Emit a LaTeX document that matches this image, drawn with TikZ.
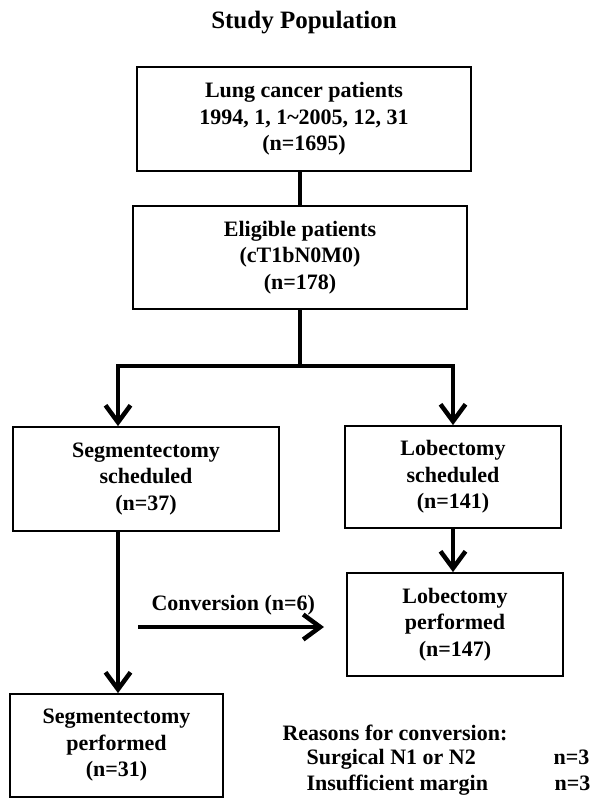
\documentclass[tikz,border=0pt]{standalone}
\usepackage{fontspec}
\setmainfont{Liberation Serif}
\usetikzlibrary{arrows.meta}
\begin{document}
\begin{tikzpicture}[x=1pt,y=-1pt,
  txt/.style={font=\bfseries\fontsize{22}{26.5}\selectfont},
  box/.style={draw, line width=1.8pt, align=center, txt, inner sep=0pt},
  conn/.style={line width=4.5pt},
  arr/.style={line width=4.5pt, -{Straight Barb[length=17pt,width=25pt]}}]
\useasboundingbox (0,0) rectangle (594,799);
\node[font=\bfseries\fontsize{25}{28}\selectfont, anchor=base] (title) at (304,29) {Study Population};
\node[box, minimum width=334pt, minimum height=104pt] (b1) at (304,119) {Lung cancer patients\\1994, 1, 1\textasciitilde2005, 12, 31\\(n=1695)};
\node[box, minimum width=334pt, minimum height=103pt] (b2) at (300,257.5) {Eligible patients\\(cT1bN0M0)\\(n=178)};
\node[box, minimum width=266pt, minimum height=104pt] (b3) at (146,479) {Segmentectomy\\scheduled\\(n=37)};
\node[box, minimum width=216pt, minimum height=102pt] (b4) at (453,477) {Lobectomy\\scheduled\\(n=141)};
\node[box, minimum width=216pt, minimum height=103pt] (b5) at (455,624.5) {Lobectomy\\performed\\(n=147)};
\node[box, minimum width=213pt, minimum height=103pt] (b6) at (116.5,745.5) {Segmentectomy\\performed\\(n=31)};
\coordinate (split) at (300,366);
\coordinate (sl) at (118,366);
\coordinate (cs) at (138,627);
\coordinate (ce) at (324,627);
\draw[conn] (b2.north |- b1.south) -- (b2.north);
\draw[conn] (b2.south) -- (split);
\draw[arr] (split) -| (sl |- b3.north);
\draw[arr] (split) -| (b4.north);
\draw[arr] (b4.south) -- (b4.south |- b5.north);
\draw[arr] (sl |- b3.south) -- (sl |- b6.north);
\draw[arr] (cs) -- (ce);
\node[txt, anchor=base west] (conv) at (148,610) {Conversion (n=6)};
\node[txt, anchor=base west] (reas) at (279,740) {Reasons for conversion:};
\node[txt, anchor=base west] (r1) at (303,764) {Surgical N1 or N2};
\node[txt, anchor=base east] (r1n) at (593,764) {n=3};
\node[txt, anchor=base west] (r2) at (303,790) {Insufficient margin};
\node[txt, anchor=base east] (r2n) at (594,790) {n=3};
\end{tikzpicture}
\end{document}
